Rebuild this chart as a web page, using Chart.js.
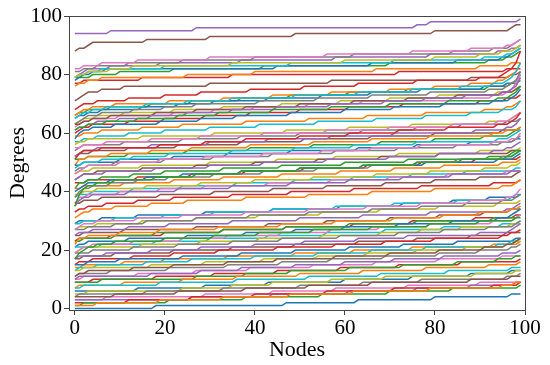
<!DOCTYPE html>
<html>
<head>
<meta charset="utf-8">
<script src="https://cdn.jsdelivr.net/npm/chart.js@4/dist/chart.umd.min.js"></script>
<style>
  html, body { margin: 0; padding: 0; background: #fff; }
  #chart { display: block; }
</style>
</head>
<body>
<canvas id="chart" width="550" height="365"></canvas>
<script>
/* =========================
   DATA
   each line: [start degree, node index of every +1 step ...]
========================= */
const nodeCount = 100;
const xTicks = [0, 20, 40, 60, 80, 100];
const yTicks = [0, 20, 40, 60, 80, 100];

const topLines = [
  [94, 8, 27, 76, 79, 99],
  [88, 1, 3, 4, 16, 30, 49, 80, 97, 98],
  [82, 2, 6, 14, 30, 56, 75, 88, 96, 98, 99],
  [80, 0, 2, 5, 12, 24, 40, 62, 84, 93, 97, 98, 99],
  [79, 1, 3, 8, 13, 35, 60, 80, 90, 95, 98, 99],
  [78, 0, 1, 3, 6, 20, 48, 71, 91, 96, 98, 99],
  [77, 0, 1, 2, 4, 7, 45, 66, 85, 95, 97, 98, 99],
  [76, 1, 3, 6, 25, 40, 67, 90, 97],
  [79, 4, 10, 22, 42, 70, 92, 96, 98, 99],
  [77, 2, 15, 35, 72, 96],
  [77, 0, 0, 1, 2, 3, 8, 19, 37, 58, 79, 94, 97, 99],
  [71, 1, 2, 3, 6, 11, 30, 57, 88, 97, 99]
];

const bandD = [
  [57, 0, 1, 1, 2, 4, 9, 19, 28, 36, 48, 60, 71, 82, 93, 97, 98, 99, 99],
  [58, 0, 2, 6, 15, 24, 38, 52, 65, 78, 91, 96, 98, 99],
  [59, 0, 0, 1, 3, 7, 14, 23, 32, 44, 57, 70, 83, 94, 97, 98, 99, 99],
  [60, 1, 2, 4, 12, 20, 29, 39, 50, 61, 73, 90, 96, 99],
  [60, 0, 1, 3, 5, 10, 17, 25, 35, 45, 57, 69, 78, 87, 95, 97, 98, 99, 99, 99],
  [61, 0, 0, 2, 4, 8, 18, 27, 38, 50, 62, 74, 85, 95, 98, 99],
  [61, 0, 1, 2, 4, 10, 22, 31, 40, 52, 64, 84, 93, 96, 97, 98, 98, 99, 99, 99],
  [62, 0, 1, 2, 3, 6, 13, 20, 27, 41, 54, 66, 79, 92, 96, 97, 98, 99, 99, 99],
  [63, 1, 2, 5, 11, 22, 33, 46, 59, 70, 81, 94, 98, 99],
  [63, 0, 0, 1, 2, 4, 7, 16, 25, 35, 49, 63, 75, 86, 93, 96, 97, 98, 98, 99, 99, 99],
  [64, 0, 1, 3, 6, 15, 23, 31, 43, 55, 66, 77, 91, 96, 98, 99, 99],
  [65, 0, 1, 2, 4, 9, 21, 33, 44, 57, 70, 80, 88, 94, 96, 97, 98, 99, 99, 99],
  [66, 1, 3, 8, 17, 26, 37, 48, 61, 74, 92, 97, 99],
  [66, 0, 0, 1, 2, 5, 12, 20, 28, 39, 51, 63, 76, 90, 95, 96, 97, 98, 98, 99, 99, 99, 99]
];

const bandC = [
  [30, 0, 1, 2, 4, 9, 17, 25, 38, 52, 66, 80, 95, 98, 99],
  [32, 0, 0, 0, 1, 1, 1, 1, 2, 2, 3, 5, 9, 18, 27, 37, 50, 64, 76, 86, 96, 98, 99],
  [33, 1, 3, 7, 14, 22, 35, 48, 62, 77, 93, 99],
  [34, 0, 1, 1, 2, 4, 12, 23, 35, 48, 61, 73, 84, 97],
  [35, 0, 2, 6, 19, 31, 44, 56, 69, 80, 90, 98, 99],
  [36, 1, 1, 3, 10, 19, 29, 43, 57, 70, 83, 96],
  [36, 0, 0, 1, 1, 2, 4, 8, 14, 21, 31, 42, 54, 66, 76, 85, 95, 98, 99],
  [37, 0, 0, 2, 5, 16, 28, 40, 53, 67, 79, 91, 97, 99],
  [38, 1, 4, 13, 24, 36, 49, 62, 75, 87, 98],
  [39, 0, 1, 2, 3, 8, 16, 24, 37, 50, 64, 78, 94, 98, 99],
  [40, 0, 2, 11, 22, 33, 46, 59, 71, 82, 95, 99],
  [41, 1, 1, 3, 6, 13, 20, 33, 46, 60, 74, 92, 97, 98],
  [42, 0, 3, 14, 26, 38, 51, 65, 77, 89, 99],
  [43, 0, 1, 2, 7, 18, 30, 42, 56, 70, 81, 93, 96, 98, 99],
  [44, 1, 2, 5, 15, 27, 40, 54, 68, 81, 97],
  [44, 0, 0, 1, 2, 3, 10, 19, 29, 42, 55, 66, 77, 93, 97, 99, 99],
  [45, 0, 0, 1, 3, 9, 20, 31, 44, 58, 72, 85, 95, 98, 99],
  [46, 1, 4, 15, 30, 45, 58, 72, 90, 99],
  [47, 0, 1, 2, 6, 13, 21, 35, 49, 62, 76, 94, 97, 98, 99],
  [48, 0, 2, 10, 22, 34, 48, 63, 76, 88, 98],
  [49, 1, 1, 3, 8, 17, 26, 39, 53, 66, 79, 93, 96, 99],
  [50, 0, 3, 12, 25, 39, 53, 68, 80, 91, 97, 98],
  [50, 0, 1, 1, 2, 6, 19, 29, 38, 50, 61, 72, 83, 94, 97, 98, 99, 99],
  [51, 0, 1, 2, 5, 17, 30, 43, 57, 71, 89, 96, 98, 99, 99],
  [52, 1, 4, 12, 23, 37, 51, 66, 80, 95, 99],
  [53, 0, 0, 2, 7, 17, 28, 42, 56, 70, 84, 94, 97, 98, 99],
  [54, 1, 2, 11, 24, 37, 50, 64, 76, 86, 96, 99],
  [55, 0, 1, 3, 15, 31, 47, 61, 75, 92, 97, 98, 99],
  [56, 0, 2, 5, 12, 20, 30, 41, 54, 67, 78, 88, 95, 98, 99, 99]
];

const bandB = [
  [12, 0, 2, 17, 29, 42, 54, 65, 76, 87, 96, 98],
  [13, 1, 5, 16, 26, 40, 54, 66, 78, 94, 97, 99],
  [14, 0, 3, 10, 24, 37, 49, 61, 73, 85, 98],
  [14, 2, 11, 20, 34, 49, 62, 75, 93, 99],
  [14, 0, 0, 0, 1, 1, 2, 3, 5, 9, 20, 31, 41, 53, 66, 79, 90, 98],
  [15, 1, 4, 13, 22, 32, 45, 58, 69, 80, 95, 97, 99],
  [16, 0, 1, 7, 17, 28, 40, 51, 63, 74, 90, 97, 98, 99],
  [17, 2, 9, 22, 35, 49, 63, 76, 88, 96],
  [17, 0, 0, 1, 2, 4, 13, 24, 34, 46, 57, 68, 79, 93, 98, 99],
  [18, 0, 4, 13, 23, 35, 46, 59, 72, 82, 92, 98, 99],
  [19, 1, 2, 15, 28, 41, 55, 68, 77, 86, 97],
  [20, 0, 6, 18, 30, 43, 56, 69, 82, 95, 99],
  [21, 1, 3, 12, 25, 38, 49, 60, 72, 84, 94, 97, 98, 99],
  [21, 0, 1, 1, 3, 10, 19, 32, 46, 58, 71, 82, 90, 97, 99],
  [22, 0, 2, 9, 18, 33, 47, 61, 76, 93, 99],
  [23, 1, 8, 20, 33, 47, 62, 75, 89, 98],
  [24, 0, 1, 4, 12, 21, 35, 50, 64, 79, 96, 98, 99],
  [25, 2, 11, 27, 43, 56, 70, 81, 91, 97],
  [25, 0, 0, 1, 2, 5, 14, 24, 38, 52, 65, 77, 88, 96, 98, 99, 99],
  [26, 0, 3, 9, 16, 27, 39, 52, 66, 77, 87, 95, 98, 99],
  [27, 1, 5, 15, 27, 41, 55, 68, 81, 94, 99],
  [28, 0, 2, 9, 20, 31, 44, 58, 71, 85, 97, 98],
  [29, 1, 6, 14, 29, 44, 59, 73, 84, 92, 99]
];

const bandA = [
  [0, 18, 47, 63, 80, 97],
  [1, 5, 19, 33, 48, 62, 79, 95, 98],
  [1, 2, 21, 38, 55, 70, 84, 99],
  [2, 12, 26, 40, 56, 71, 93, 99],
  [2, 0, 26, 44, 61, 76, 88, 98],
  [3, 0, 9, 23, 38, 52, 66, 88, 97],
  [3, 7, 29, 44, 58, 74, 90],
  [4, 1, 16, 33, 50, 64, 77, 96, 99],
  [5, 3, 24, 35, 44, 57, 69, 89, 98],
  [6, 0, 2, 19, 36, 52, 68, 83, 97],
  [6, 14, 29, 43, 60, 75, 88, 97],
  [7, 1, 11, 24, 36, 50, 64, 78, 92, 99],
  [8, 0, 6, 27, 38, 48, 61, 73, 85, 94, 98],
  [9, 4, 18, 31, 45, 59, 72, 86, 99],
  [9, 0, 1, 17, 28, 37, 49, 60, 71, 82, 95, 99],
  [10, 0, 1, 3, 13, 22, 34, 45, 58, 70, 81, 91, 96, 98, 99],
  [10, 2, 14, 27, 39, 53, 67, 81, 95],
  [11, 1, 8, 21, 34, 46, 57, 69, 81, 90, 97, 99]
];

const palette = ["#1f77b4", "#ff7f0e", "#2ca02c", "#d62728", "#9467bd",
  "#8c564b", "#e377c2", "#7f7f7f", "#bcbd22", "#17becf"];

/* =========================
   BUILD SERIES
========================= */
function toPoints(line) {
  const start = line[0];
  const steps = line.slice(1);
  const pts = [];
  for (let n = 0; n < nodeCount; n++) {
    pts.push({ x: n, y: start + steps.filter((p) => p <= n).length });
  }
  return pts;
}

const allLines = [...bandA, ...bandB, ...bandC, ...bandD, ...topLines];

const datasets = allLines.map((line, i) => ({
  data: toPoints(line),
  borderColor: palette[i % palette.length],
  borderWidth: 1.5,
  pointRadius: 0,
  tension: 0,
  fill: false,
}));

/* frame round the plot */
const frame = {
  id: "frame",
  afterDatasetsDraw(chart) {
    const a = chart.chartArea;
    const ctx = chart.ctx;
    ctx.save();
    ctx.strokeStyle = "#444";
    ctx.lineWidth = 1;
    ctx.strokeRect(Math.round(a.left) + 0.5, Math.round(a.top) + 0.5,
      Math.round(a.right - a.left), Math.round(a.bottom - a.top));
    ctx.restore();
  },
};

const serif = "'Liberation Serif', 'Times New Roman', serif";

new Chart(document.getElementById("chart"), {
  type: "line",
  data: { datasets: datasets },
  plugins: [frame],
  options: {
    responsive: false,
    animation: false,
    devicePixelRatio: 1,
    layout: { padding: { left: 5, right: 25, top: 16, bottom: 0 } },
    plugins: { legend: { display: false }, tooltip: { enabled: false } },
    scales: {
      x: {
        type: "linear",
        min: -1.3,
        max: 100,
        afterBuildTicks: (s) => { s.ticks = xTicks.map((v) => ({ value: v })); },
        afterFit: (s) => { s.height = 55; },
        grid: { drawOnChartArea: false, tickLength: 5, color: "#444" },
        border: { display: false },
        ticks: { color: "#000", font: { family: serif, size: 21 }, padding: 1, maxRotation: 0 },
        title: { display: true, text: "Nodes", color: "#000", font: { family: serif, size: 22 }, padding: { top: 0, bottom: 2 } },
      },
      y: {
        type: "linear",
        min: -0.5,
        max: 100,
        afterBuildTicks: (s) => { s.ticks = yTicks.map((v) => ({ value: v })); },
        afterFit: (s) => { s.width = 64; },
        grid: { drawOnChartArea: false, tickLength: 5, color: "#444" },
        border: { display: false },
        ticks: { color: "#000", font: { family: serif, size: 21 }, padding: 2 },
        title: { display: true, text: "Degrees", color: "#000", font: { family: serif, size: 22 }, padding: 0 },
      },
    },
  },
});
</script>
</body>
</html>
